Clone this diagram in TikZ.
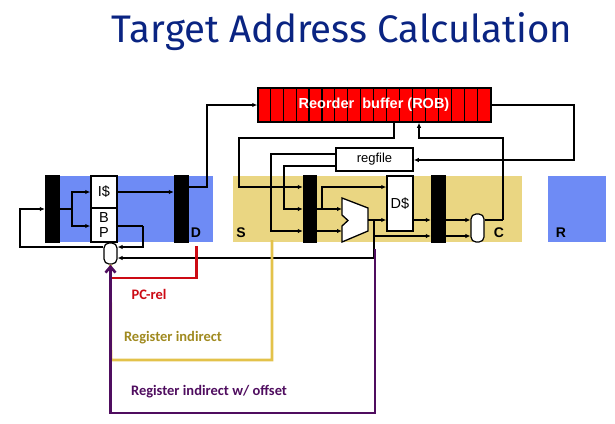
\documentclass[tikz,border=0pt]{standalone}
\usepackage{fontspec}
\setmainfont{Liberation Sans}
\newfontfamily\titlefont{Fira Sans}
\newfontfamily\notefont{Carlito}
\usetikzlibrary{arrows.meta}
\usetikzlibrary{calc, positioning}
\definecolor{stageblue}{HTML}{6E8BF5}
\definecolor{stageyellow}{HTML}{EAD682}
\definecolor{pcred}{HTML}{CC0A14}
\definecolor{indyellow}{HTML}{E3C24A}
\definecolor{indtext}{HTML}{A08A20}
\definecolor{offpurple}{HTML}{4F0D5F}
\tikzset{stage/.style={fill=#1, draw=none, anchor=north west, inner sep=0pt}}
\tikzset{latch/.style={fill=black, draw=none, inner sep=0pt, minimum width=15pt, minimum height=68pt}}
\tikzset{unit/.style={draw=black, line width=1.5pt, fill=white, inner sep=0pt, font=\fontsize{14.5}{14.5}\selectfont}}
\tikzset{pick/.style={draw=black, line width=1.2pt, fill=white, rounded corners=5pt, inner sep=0pt, minimum width=13pt}}
\tikzset{tag/.style={font=\fontsize{14}{14}\selectfont\bfseries}}
\tikzset{wire/.style={line width=1.25pt, -{Latex[length=5pt,width=4.5pt]}}}
\tikzset{plain wire/.style={line width=1.25pt}}
\tikzset{route/.style={line width=2.6pt, color=#1}}
\tikzset{note/.style={font=\fontsize{14.5}{14.5}\selectfont\notefont\bfseries, text=#1}}

\begin{document}
\begin{tikzpicture}[x=1pt, y=-1pt]
\useasboundingbox (0,0) rectangle (615,423);
\node[font=\fontsize{38.4}{38.4}\selectfont\titlefont, text={rgb,255:red,10;green,36;blue,130}] (title) at (342,32) {Target Address Calculation};

% pipeline stages
\node[stage=stageblue, minimum width=168pt, minimum height=66pt] (fetch) at (45,176) {};
\node[stage=stageyellow, minimum width=289pt, minimum height=66pt] (sched) at (233,176) {};
\node[stage=stageblue, minimum width=58pt, minimum height=66pt] (retire) at (548,176) {};
\node[tag] (dlab) at (196,233) {D};
\node[tag] (slab) at (241,233) {S};
\node[tag] (clab) at (499,233) {C};
\node[tag] (rlab) at (561,233) {R};

% reorder buffer
\node[draw=black, line width=1.5pt, fill=red, minimum width=233pt, minimum height=34pt, inner sep=0pt] (rob) at (374.5,105) {};
\foreach \i in {1,...,17}
  \draw[black, line width=1.1pt] ($(rob.north west)+(\i*12.94,0)$) -- ($(rob.south west)+(\i*12.94,0)$);
\node[font=\fontsize{14.5}{14.5}\selectfont\bfseries, text=white] (roblab) at (374,105) {Reorder\ \ buffer (ROB)};

% latches and units
\node[latch] (l1) at (52.5,209) {};
\node[latch] (l2) at (181.5,209) {};
\node[latch, minimum width=14pt] (l3) at (310,209) {};
\node[latch] (l4) at (438.5,209) {};
\node[unit, minimum width=26pt, minimum height=32pt] (icache) at (104,192) {I\$};
\node[unit, minimum width=26pt, minimum height=34pt, align=center] (bp) at (104,225) {B\\[1pt]P};
\node[unit, minimum width=77pt, minimum height=23pt, font=\fontsize{13}{13}\selectfont] (regfile) at (374.5,159.5) {regfile};
\node[unit, minimum width=26pt, minimum height=55pt] (dcache) at (400,203.5) {D\$};
\node[pick, minimum height=21pt] (pcmux) at (110.5,253.5) {};
\node[pick, minimum height=28pt] (cmux) at (477.5,228) {};

% ALU
\draw[draw=black, line width=1.3pt, fill=white] (342,198) -- (368,208) -- (368,231) -- (342,242) -- (342,226) -- (348,220.5) -- (342,215) -- cycle;
\coordinate (aluin1) at (342,209);
\coordinate (aluin2) at (342,231);
\coordinate (aluout) at (368,220);

% bends
\coordinate (robout) at (394,138);
\coordinate (robin) at (419,138);
\coordinate (robleft) at (239,138);
\coordinate (fb) at (20,247);
\coordinate (bpout) at (143,226);
\coordinate (lsplit) at (72,209);
\coordinate (tap) at (322,209);
\coordinate (alutap) at (374,220);
\coordinate (alulow) at (374,236);
\coordinate (aluback) at (374,258);
\coordinate (dup) at (207,187);
\coordinate (robright) at (574,105);
\coordinate (rfin) at (574,160);
\coordinate (cbend) at (503,220);
\coordinate (rfup) at (271,154);
\coordinate (rflow) at (284,166);

% fetch wires
\draw[wire] (pcmux.west |- fb) -- (fb) |- (l1.west |- lsplit);
\draw[plain wire] (l1.east |- lsplit) -- (lsplit);
\draw[wire] (lsplit) |- (icache.west);
\draw[wire] (lsplit) |- (bp.west |- bpout);
\draw[plain wire] (bp.east |- bpout) -- (bpout);
\draw[wire] (bpout) |- (pcmux.east |- fb);
\draw[wire] (icache.east) -- (l2.west |- icache.east);
\draw[wire] (l2.east |- dup) -- (dup) |- (rob.west);

% schedule wires
\draw[wire] (rob.south -| robout) -- (robout) -- (robleft) |- (l3.west |- dup);
\draw[wire] (regfile.west |- rfup) -- (rfup) |- (l3.west |- aluin2);
\draw[wire] (regfile.west |- rflow) -- (rflow) |- (l3.west |- aluin1);
\draw[wire] (l3.east |- aluin1) -- (aluin1);
\draw[wire] (l3.east |- aluin2) -- (aluin2);
\draw[wire] (tap) |- (dcache.west |- dup);
\draw[wire] (aluout) -- (dcache.west |- aluout);
\draw[wire] (dcache.east |- aluout) -- (l4.west |- aluout);
\draw[wire] (l4.east |- aluout) -- (cmux.west |- aluout);
\draw[wire] (alulow) -- (l4.west |- alulow);
\draw[wire] (l4.east |- alulow) -- (cmux.west |- alulow);
\draw[plain wire] (alutap) -- (aluback);
\draw[wire] (aluback) -- (pcmux.east |- aluback);
\draw[plain wire] (cmux.east |- cbend) -- (cbend);
\draw[wire] (cbend) |- (robin) -- (rob.south -| robin);
\draw[wire] (rob.east) -- (robright) |- (regfile.east |- rfin);

% target routes
\coordinate (redstart) at (196.5,246);
\coordinate (yelstart) at (272,240);
\coordinate (purstart) at (375,249);
\draw[route=indyellow] (yelstart) |- (111,360) -- (pcmux.south);
\draw[route=pcred] (redstart) |- (111,278);
\draw[route=offpurple, -{Straight Barb[length=6pt,width=10pt]}] (purstart) |- (110.5,413) -- (pcmux.south);
\node[note=pcred] (pcrel) at (149,294) {PC-rel};
\node[note=indtext] (indlab) at (173,338) {Register indirect};
\node[note=offpurple] (offlab) at (209,392) {Register indirect w/ offset};
\end{tikzpicture}
\end{document}
